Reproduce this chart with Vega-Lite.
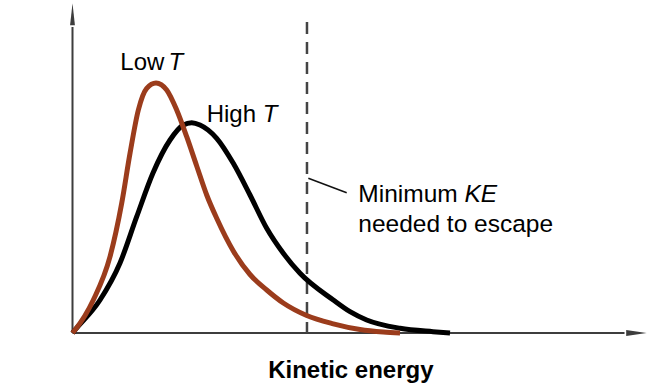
{
  "$schema": "https://vega.github.io/schema/vega-lite/v6.json",
  "width": 650,
  "height": 389,
  "autosize": {"type": "fit", "contains": "padding"},
  "padding": 0,
  "background": "white",
  "config": {"view": {"stroke": null}, "text": {"font": "Liberation Sans"}},
  "datasets": {
    "low": [
      {"ke": 0, "n": 0}, {"ke": 0.031, "n": 0.03}, {"ke": 0.26, "n": 0.33}, {"ke": 0.469, "n": 0.763},
      {"ke": 0.615, "n": 1.297}, {"ke": 0.719, "n": 1.797}, {"ke": 0.823, "n": 2.23}, {"ke": 0.9275, "n": 2.447},
      {"ke": 1.044, "n": 2.5}, {"ke": 1.1775, "n": 2.43}, {"ke": 1.3025, "n": 2.23}, {"ke": 1.4275, "n": 1.963},
      {"ke": 1.5525, "n": 1.67}, {"ke": 1.6775, "n": 1.38}, {"ke": 1.8025, "n": 1.147}, {"ke": 2.01, "n": 0.82},
      {"ke": 2.219, "n": 0.585}, {"ke": 2.4275, "n": 0.43}, {"ke": 2.635, "n": 0.3}, {"ke": 2.9275, "n": 0.175},
      {"ke": 3.26, "n": 0.092}, {"ke": 3.594, "n": 0.035}, {"ke": 3.885, "n": 0.01}, {"ke": 4.094, "n": 0}
    ],
    "high": [
      {"ke": 0, "n": 0}, {"ke": 0.031, "n": 0.03}, {"ke": 0.344, "n": 0.33}, {"ke": 0.594, "n": 0.7},
      {"ke": 0.8025, "n": 1.163}, {"ke": 1.006, "n": 1.6}, {"ke": 1.219, "n": 1.93}, {"ke": 1.385, "n": 2.08},
      {"ke": 1.49, "n": 2.103}, {"ke": 1.594, "n": 2.08}, {"ke": 1.8025, "n": 1.947}, {"ke": 2.01, "n": 1.697},
      {"ke": 2.219, "n": 1.38}, {"ke": 2.4275, "n": 1.047}, {"ke": 2.635, "n": 0.797}, {"ke": 2.844, "n": 0.597},
      {"ke": 3.26, "n": 0.33}, {"ke": 3.469, "n": 0.213}, {"ke": 3.6775, "n": 0.13}, {"ke": 4.094, "n": 0.047},
      {"ke": 4.506, "n": 0.013}, {"ke": 4.719, "n": 0}
    ],
    "threshold": [{"ke": 2.931, "top": 3.11, "bottom": 0}],
    "leader": [{"x1": 2.948, "y1": 1.547, "x2": 3.4275, "y2": 1.403}],
    "axes": [
      {"x1": 0, "y1": 0, "x2": 0, "y2": 3.06},
      {"x1": 0, "y1": 0, "x2": 6.9, "y2": 0}
    ],
    "arrowUp": [{"x": 0, "y": 3.188}],
    "arrowRight": [{"x": 7.049, "y": 0}],
    "curveLabels": [
      {"label": "Low", "x": 0.5975, "y": 2.63},
      {"label": "High", "x": 1.6775, "y": 2.113}
    ],
    "curveLabelsItalic": [
      {"label": "T", "x": 1.2, "y": 2.63},
      {"label": "T", "x": 2.3775, "y": 2.113}
    ],
    "note": [
      {"label": "Minimum", "x": 3.5725, "y": 1.307},
      {"label": "needed to escape", "x": 3.5725, "y": 1.013}
    ],
    "noteItalic": [
      {"label": "KE", "x": 4.9, "y": 1.307}
    ],
    "title": [{"label": "Kinetic energy", "x": 3.479, "y": -0.453}]
  },
  "layer": [
    {
      "data": {"name": "axes"},
      "mark": {"type": "rule", "color": "#3d3d3d", "strokeWidth": 2},
      "encoding": {
        "x": {"field": "x1", "type": "quantitative", "scale": {"domain": [-0.90625, 7.21875], "nice": false, "zero": false}, "axis": null},
        "y": {"field": "y1", "type": "quantitative", "scale": {"domain": [-0.56, 3.33], "nice": false, "zero": false}, "axis": null},
        "x2": {"field": "x2"},
        "y2": {"field": "y2"}
      }
    },
    {
      "data": {"name": "arrowUp"},
      "mark": {"type": "point", "shape": "M0,-1L0.22,1L-0.22,1Z", "size": 484, "filled": true, "color": "#3d3d3d", "opacity": 1, "strokeWidth": 0},
      "encoding": {
        "x": {"field": "x", "type": "quantitative"},
        "y": {"field": "y", "type": "quantitative"}
      }
    },
    {
      "data": {"name": "arrowRight"},
      "mark": {"type": "point", "shape": "M1,0L-1,0.3L-1,-0.3Z", "size": 420, "filled": true, "color": "#3d3d3d", "opacity": 1, "strokeWidth": 0},
      "encoding": {
        "x": {"field": "x", "type": "quantitative"},
        "y": {"field": "y", "type": "quantitative"}
      }
    },
    {
      "data": {"name": "threshold"},
      "mark": {"type": "rule", "color": "#444444", "strokeWidth": 2.5, "strokeDash": [12, 8]},
      "encoding": {
        "x": {"field": "ke", "type": "quantitative"},
        "y": {"field": "top", "type": "quantitative"},
        "y2": {"field": "bottom"}
      }
    },
    {
      "data": {"name": "high"},
      "mark": {"type": "line", "color": "#000000", "strokeWidth": 5, "interpolate": "monotone"},
      "encoding": {
        "x": {"field": "ke", "type": "quantitative"},
        "y": {"field": "n", "type": "quantitative"}
      }
    },
    {
      "data": {"name": "low"},
      "mark": {"type": "line", "color": "#9b3c1c", "strokeWidth": 5, "interpolate": "monotone"},
      "encoding": {
        "x": {"field": "ke", "type": "quantitative"},
        "y": {"field": "n", "type": "quantitative"}
      }
    },
    {
      "data": {"name": "leader"},
      "mark": {"type": "rule", "color": "#111111", "strokeWidth": 1.5},
      "encoding": {
        "x": {"field": "x1", "type": "quantitative"},
        "y": {"field": "y1", "type": "quantitative"},
        "x2": {"field": "x2"},
        "y2": {"field": "y2"}
      }
    },
    {
      "data": {"name": "curveLabels"},
      "mark": {"type": "text", "align": "left", "baseline": "alphabetic", "fontSize": 24, "color": "#000000"},
      "encoding": {
        "x": {"field": "x", "type": "quantitative"},
        "y": {"field": "y", "type": "quantitative"},
        "text": {"field": "label"}
      }
    },
    {
      "data": {"name": "curveLabelsItalic"},
      "mark": {"type": "text", "align": "left", "baseline": "alphabetic", "fontSize": 24, "fontStyle": "italic", "color": "#000000"},
      "encoding": {
        "x": {"field": "x", "type": "quantitative"},
        "y": {"field": "y", "type": "quantitative"},
        "text": {"field": "label"}
      }
    },
    {
      "data": {"name": "note"},
      "mark": {"type": "text", "align": "left", "baseline": "alphabetic", "fontSize": 24.5, "color": "#000000"},
      "encoding": {
        "x": {"field": "x", "type": "quantitative"},
        "y": {"field": "y", "type": "quantitative"},
        "text": {"field": "label"}
      }
    },
    {
      "data": {"name": "noteItalic"},
      "mark": {"type": "text", "align": "left", "baseline": "alphabetic", "fontSize": 24.5, "fontStyle": "italic", "color": "#000000"},
      "encoding": {
        "x": {"field": "x", "type": "quantitative"},
        "y": {"field": "y", "type": "quantitative"},
        "text": {"field": "label"}
      }
    },
    {
      "data": {"name": "title"},
      "mark": {"type": "text", "align": "center", "baseline": "alphabetic", "fontSize": 24, "fontWeight": "bold", "color": "#000000"},
      "encoding": {
        "x": {"field": "x", "type": "quantitative"},
        "y": {"field": "y", "type": "quantitative"},
        "text": {"field": "label"}
      }
    }
  ]
}
